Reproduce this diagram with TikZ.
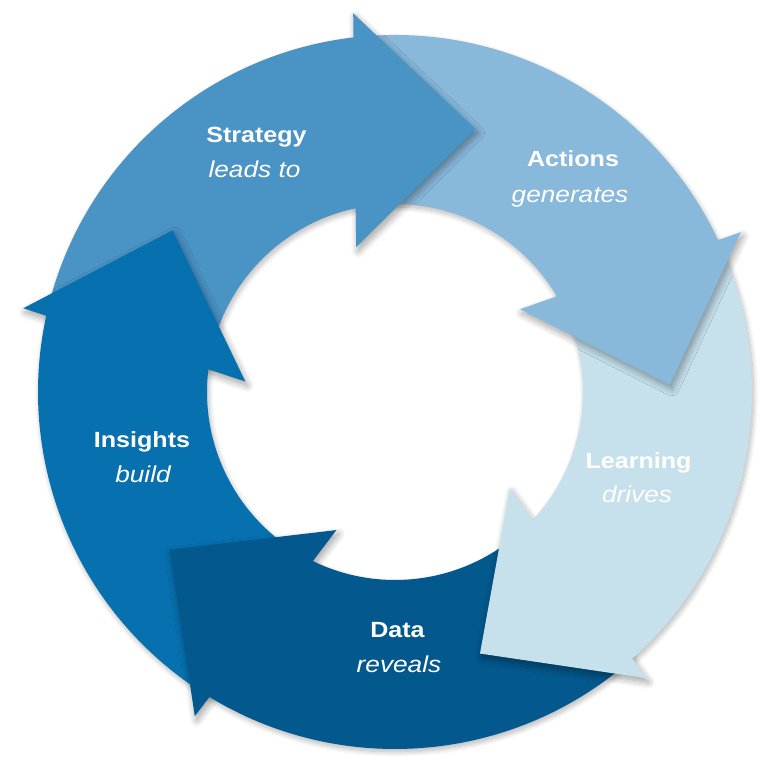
\documentclass[tikz,border=0pt]{standalone}
\usepackage{fontspec}
\setmainfont{Liberation Sans}[FakeStretch=1.14]
\usetikzlibrary{shadows.blur}
\definecolor{cStrat}{HTML}{4A93C5}
\definecolor{cAct}{HTML}{88B8DA}
\definecolor{cLearn}{HTML}{C6E0EC}
\definecolor{cData}{HTML}{03588D}
\definecolor{cIns}{HTML}{0771B0}
\newcommand\Ro{357}
\newcommand\Ri{188}
% body edges lie just in front of each head base, hidden under the head
\newcommand\SetAng[2]{%
  \pgfmathsetmacro\aO{#1+22.3}\pgfmathsetmacro\bO{#2+22.3}%
  \pgfmathsetmacro\aI{#1+27.7}\pgfmathsetmacro\bI{#2+27.7}}
\newcommand\BodyPath{(\aO:\Ro) arc[start angle=\aO, end angle=\bO, radius=\Ro]
    -- (\bI:\Ri) arc[start angle=\bI, end angle=\aI, radius=\Ri] -- cycle}
% #1 previous tip angle, #2 own tip angle, #3 options
\newcommand\ArrBody[3]{\SetAng{#1}{#2}\path[#3] \BodyPath;}
\newcommand\ArrHead[2]{%
  \pgfmathsetmacro\hA{#1+23.3}\pgfmathsetmacro\hB{#1+32}%
  \path[#2] (\hA:381) -- (#1:275) -- (\hB:150) -- cycle;}
% head shadow, kept off its own body
\newcommand\HeadShadow[2]{\begin{scope}[even odd rule]\SetAng{#1}{#2}%
  \clip (-600,-600) rectangle (600,600) \BodyPath;
  \ArrHead{#2}{hshd}\end{scope}}
\begin{document}
\begin{tikzpicture}[x=1pt,y=1pt,
  shd/.style={blur shadow={shadow xshift=1.5pt, shadow yshift=-3pt, shadow blur radius=5pt, shadow opacity=28, shadow blur steps=10}},
  hshd/.style={blur shadow={shadow xshift=2pt, shadow yshift=-4pt, shadow blur radius=7pt, shadow opacity=38, shadow blur steps=12}},
  lblb/.style={text=white, font=\fontsize{22}{26}\selectfont\bfseries, anchor=base, inner sep=0pt},
  lbli/.style={text=white, font=\fontsize{23}{27}\selectfont\itshape, anchor=base, inner sep=0pt}]
\useasboundingbox (0,0) rectangle (768,767);
\begin{scope}[shift={(395,375)}]
  % shadows of the ring bodies
  \ArrBody{144}{73}{shd}
  \ArrBody{73}{1.5}{shd}
  \ArrBody{1.5}{-72}{shd}
  \ArrBody{-72}{-145}{shd}
  \ArrBody{-145}{-216}{shd}
  % bodies
  \ArrBody{144}{73}{fill=cStrat}
  \ArrBody{73}{1.5}{fill=cAct}
  \ArrBody{1.5}{-72}{fill=cLearn}
  \ArrBody{-72}{-145}{fill=cData}
  \ArrBody{-145}{-216}{fill=cIns}
  % head shadows
  \HeadShadow{144}{73}
  \HeadShadow{73}{1.5}
  \HeadShadow{1.5}{-72}
  \HeadShadow{-72}{-145}
  \HeadShadow{-145}{-216}
  % heads
  \ArrHead{73}{fill=cStrat}
  \ArrHead{1.5}{fill=cAct}
  \ArrHead{-72}{fill=cLearn}
  \ArrHead{-145}{fill=cData}
  \ArrHead{-216}{fill=cIns}
\end{scope}
\node[lblb] (strat) at (256.5,624) {Strategy};
\node[lbli] (stratv) at (254.5,589) {leads to};
\node[lblb] (act) at (573,600) {Actions};
\node[lbli] (actv) at (570,564) {generates};
\node[lblb] (learn) at (638.5,298) {Learning};
\node[lbli] (learnv) at (637,264) {drives};
\node[lblb] (data) at (397.5,129) {Data};
\node[lbli] (datav) at (399,94) {reveals};
\node[lblb] (ins) at (142,319) {Insights};
\node[lbli] (insv) at (143,284) {build};
\end{tikzpicture}
\end{document}
